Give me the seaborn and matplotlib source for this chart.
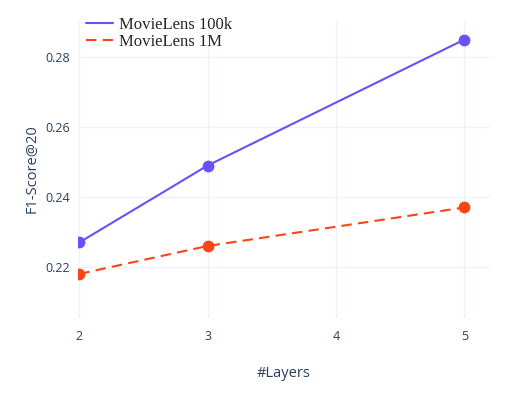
import pandas as pd
import matplotlib.pyplot as plt
import seaborn as sns

# data
layers = [2, 3, 5]
f1_100k = [0.227, 0.249, 0.285]
f1_1m = [0.218, 0.226, 0.237]
series_names = ["MovieLens 100k", "MovieLens 1M"]
x_ticks = [2, 3, 4, 5]
y_ticks = [0.22, 0.24, 0.26, 0.28]

df = pd.DataFrame({
    "layers": layers * 2,
    "f1": f1_100k + f1_1m,
    "dataset": [series_names[0]] * len(layers) + [series_names[1]] * len(layers),
})

sns.set_style("white")
plt.rcParams["font.family"] = ["Open Sans", "DejaVu Sans"]
text_color = "#2a3f5f"

fig = plt.figure(figsize=(5.06, 3.93), dpi=100)
ax = fig.add_axes([78 / 506, 75 / 393, 412 / 506, 298 / 393])

palette = {series_names[0]: "#6b4ff7", series_names[1]: "#fc4517"}
sns.lineplot(data=df, x="layers", y="f1", hue="dataset", style="dataset",
             palette=palette, dashes={series_names[0]: "", series_names[1]: (5, 3)},
             marker="o", markersize=8.5, markeredgewidth=0, linewidth=1.5,
             ax=ax, legend=False)

ax.set_xlim(1.99, 5.2)
ax.set_ylim(0.2054, 0.2906)
ax.set_xticks(x_ticks)
ax.set_yticks(y_ticks)
ax.set_yticklabels([f"{v:.2f}" for v in y_ticks])
ax.grid(True, color="#eef2f9", linewidth=1)
ax.set_axisbelow(True)
for s in ax.spines.values():
    s.set_visible(False)
ax.tick_params(axis="both", length=0, labelsize=9, colors=text_color)
ax.tick_params(axis="x", pad=9)
ax.tick_params(axis="y", pad=6)
ax.set_xlabel("#Layers", fontsize=10.5, color=text_color, labelpad=16)
ax.set_ylabel("F1-Score@20", fontsize=10.5, color=text_color, labelpad=4)

handles = [
    plt.Line2D([], [], color=palette[series_names[0]], linewidth=1.5),
    plt.Line2D([], [], color=palette[series_names[1]], linewidth=1.5, dashes=(5, 3)),
]
ax.legend(handles, series_names, loc="upper left", bbox_to_anchor=(-0.005, 1.045),
          frameon=False, prop={"family": "Liberation Serif", "size": 12},
          handlelength=1.6, handletextpad=0.4, labelspacing=0.1, borderaxespad=0.2)

fig.savefig("out.png", dpi=100)
